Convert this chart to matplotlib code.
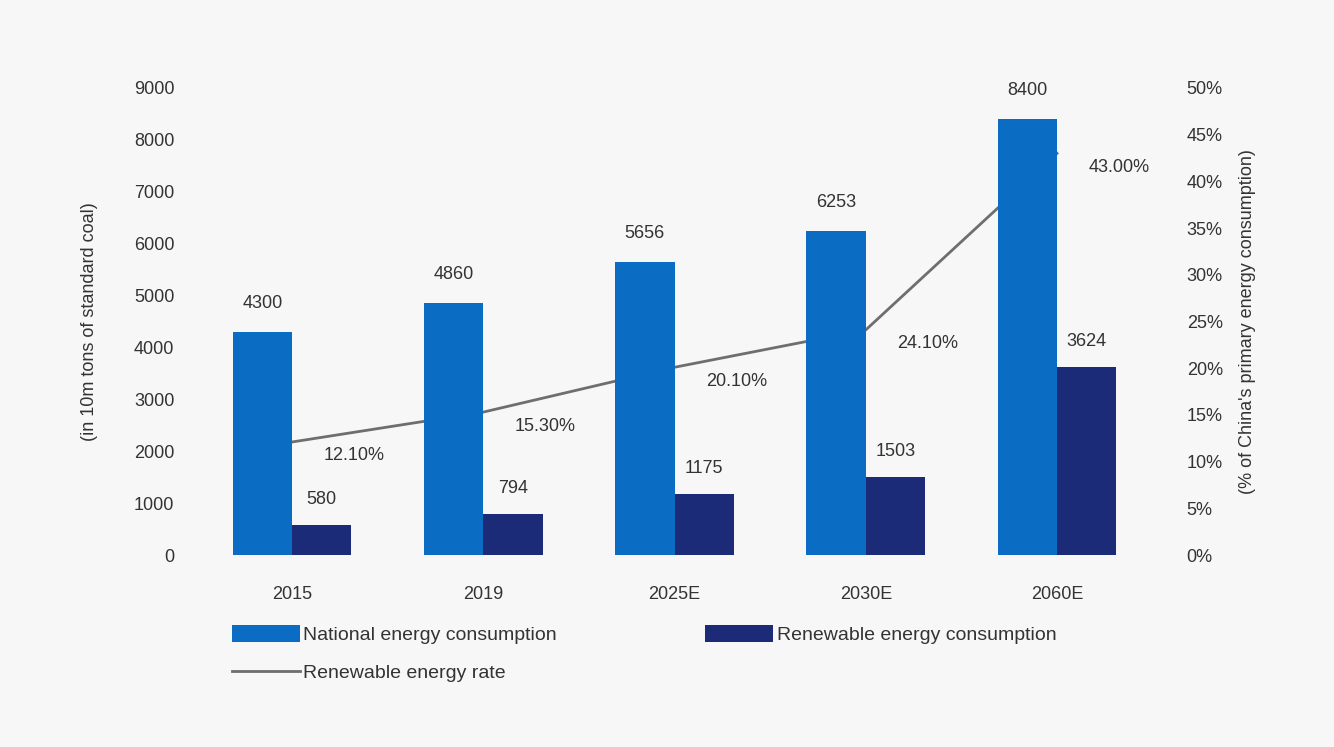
import matplotlib
matplotlib.use("Agg")
import matplotlib.pyplot as plt
import numpy as np
from matplotlib.patches import Patch
from matplotlib.lines import Line2D

categories = ["2015", "2019", "2025E", "2030E", "2060E"]
national = [4300, 4860, 5656, 6253, 8400]
renewable = [580, 794, 1175, 1503, 3624]
rate = [12.10, 15.30, 20.10, 24.10, 43.00]

left_ticks = list(range(0, 9001, 1000))
right_ticks = list(range(0, 51, 5))

plt.rcParams['font.family'] = ['Liberation Sans', 'DejaVu Sans']

BG = "#f7f7f7"
C_NAT = "#0a6cc2"
C_REN = "#1b2b78"
C_LINE = "#6e6e6e"
TXT = "#333333"

fig = plt.figure(figsize=(13.34, 7.47), dpi=100, facecolor=BG)
ax = fig.add_axes([205/1334, 1-555/747, (1145-205)/1334, (555-88)/747])
ax.set_facecolor(BG)
ax2 = ax.twinx()

x = np.arange(len(categories))
w = 0.31

ax2.set_zorder(ax.get_zorder() - 1)
ax.patch.set_visible(False)
ax2.patch.set_facecolor(BG)

bn = ax.bar(x - w/2, national, width=w, color=C_NAT, zorder=3)
br = ax.bar(x + w/2, renewable, width=w, color=C_REN, zorder=3)
ax2.plot(x, rate, color=C_LINE, lw=2, zorder=2)

ax.set_ylim(0, 9000)
ax2.set_ylim(0, 50)
ax.set_xlim(-0.455, 4.46)
ax.set_yticks(left_ticks)
ax.set_yticklabels([str(t) for t in left_ticks])
ax2.set_yticks(right_ticks)
ax2.set_yticklabels([f"{t}%" for t in right_ticks])
ax.set_xticks(x)
ax.set_xticklabels(categories)

FS = 13
for a in (ax, ax2):
    for s in a.spines.values():
        s.set_visible(False)
    a.tick_params(length=0, labelsize=FS, colors=TXT)
ax.tick_params(axis='y', pad=22)
ax2.tick_params(axis='y', pad=30)
ax.tick_params(axis='x', pad=22)

for xi, v in zip(x, national):
    ax.annotate(str(v), (xi - w/2, v), xytext=(0, 20), textcoords='offset pixels',
                ha='center', va='bottom', fontsize=FS, color=TXT)
for xi, v in zip(x, renewable):
    ax.annotate(str(v), (xi + w/2, v), xytext=(0, 17), textcoords='offset pixels',
                ha='center', va='bottom', fontsize=FS, color=TXT)
for xi, v in zip(x, rate):
    ax2.annotate(f"{v:.2f}%", (xi, v), xytext=(62, -14), textcoords='offset pixels',
                 ha='center', va='center', fontsize=FS, color=TXT)

ax.set_ylabel("(in 10m tons of standard coal)", fontsize=FS, color=TXT, labelpad=26)
ax2.set_ylabel("(% of China's primary energy consumption)", fontsize=FS, color=TXT,
               rotation=90, labelpad=12)

LFS = 14
handles1 = [Patch(facecolor=C_NAT), Patch(facecolor=C_REN)]
leg1 = fig.legend(handles1, ["National energy consumption", "Renewable energy consumption"],
                  loc='upper left', bbox_to_anchor=(214/1334, 1-607/747), ncol=2,
                  frameon=False, fontsize=LFS, handlelength=3.5, handleheight=1.0,
                  columnspacing=7.6, handletextpad=0.2, labelcolor=TXT)
leg2 = fig.legend([Line2D([0], [0], color=C_LINE, lw=2)], ["Renewable energy rate"],
                  loc='upper left', bbox_to_anchor=(214/1334, 1-647/747),
                  frameon=False, fontsize=LFS, handlelength=3.5, handletextpad=0.2,
                  labelcolor=TXT)

fig.savefig("out.png", dpi=100, facecolor=BG)
